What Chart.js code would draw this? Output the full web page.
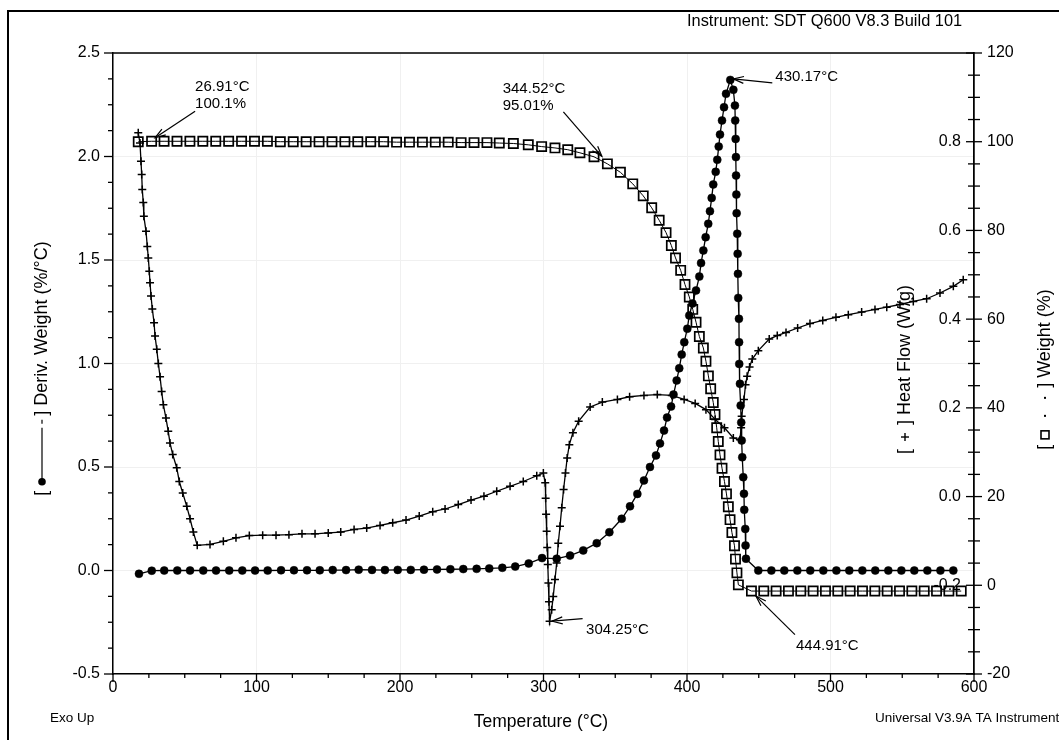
<!DOCTYPE html>
<html>
<head>
<meta charset="utf-8">
<title>SDT Q600 – TGA / DTG / DSC</title>
<script src="https://cdn.jsdelivr.net/npm/chart.js@4.4.1/dist/chart.umd.min.js"></script>
<style>
  html, body { margin: 0; padding: 0; background: #fff; }
  canvas { display: block; }
</style>
</head>
<body>
<canvas id="c" width="1059" height="740"></canvas>
<script>
// ---------- data ----------
// Derivative weight (%/°C) vs temperature (°C)
const derivTemp = [
  18.1, 27.0, 35.7, 44.8, 53.7, 62.9, 71.8, 81.0, 90.1, 99.0,
  107.8, 117.1, 126.1, 135.2, 144.1, 153.1, 162.4, 171.2, 180.5, 189.5,
  198.4, 207.5, 216.7, 225.8, 235.1, 244.1, 253.4, 262.2, 271.3, 280.3,
  289.7, 299.0,
  309.2, 318.5, 327.7, 337.1, 345.9, 354.5, 360.3, 365.4, 370.0, 374.2,
  378.4, 381.2, 384.0, 386.1, 388.9, 390.6, 392.8, 394.6, 396.3, 398.1,
  400.2, 401.6, 403.8, 406.3, 408.6, 409.8, 411.4, 413.0, 414.8, 416.0,
  417.2, 418.3, 420.0, 421.1, 422.1, 423.0, 424.4, 425.8, 427.2,
  430.17,
  432.3, 433.4, 433.6, 433.9, 434.1, 434.2, 434.4, 434.6, 435.0, 435.3,
  435.5, 435.7, 436.2, 436.3, 436.4, 436.9, 437.4, 437.8, 438.1, 438.5,
  439.2, 439.7, 439.9, 440.6, 440.8, 441.1,
  449.7, 458.8, 467.8, 476.9, 485.9, 495.0, 504.1, 513.1, 522.2, 531.2,
  540.3, 549.4, 558.4, 567.5, 576.6, 585.6
];
const derivValue = [
  -0.016, -0.001, 0.000, 0.000, 0.000, 0.000, 0.000, 0.000, 0.000, 0.000,
  0.000, 0.001, 0.001, 0.001, 0.001, 0.002, 0.002, 0.004, 0.003, 0.002,
  0.003, 0.003, 0.004, 0.005, 0.006, 0.007, 0.008, 0.010, 0.013, 0.019,
  0.034, 0.060,
  0.057, 0.072, 0.097, 0.132, 0.185, 0.250, 0.310, 0.370, 0.435, 0.500,
  0.556, 0.614, 0.676, 0.739, 0.792, 0.850, 0.918, 0.977, 1.043, 1.103,
  1.168, 1.232, 1.290, 1.353, 1.420, 1.485, 1.546, 1.610, 1.675, 1.736,
  1.800, 1.865, 1.926, 1.984, 2.048, 2.106, 2.174, 2.238, 2.303,
  2.370,
  2.322, 2.246, 2.174, 2.085, 1.997, 1.908, 1.816, 1.726, 1.627, 1.530,
  1.433, 1.317, 1.216, 1.103, 0.998, 0.902, 0.797, 0.715, 0.628, 0.547,
  0.451, 0.371, 0.293, 0.201, 0.121, 0.057,
  0, 0, 0, 0, 0, 0, 0, 0, 0, 0,
  0, 0, 0, 0, 0, 0
];

// Heat flow (W/g) vs temperature (°C)
const heatTemp = [
  17.6, 18.8, 19.5, 20.0, 20.4, 21.1, 21.5, 23.0, 23.9, 24.6,
  25.3, 25.8, 26.5, 27.4, 28.6, 29.3, 30.5, 31.6, 32.8, 33.9,
  35.1, 36.9, 38.5, 39.7, 41.6, 44.4, 46.2, 48.6, 51.4, 53.7,
  56.0, 58.7, 67.6, 76.9, 85.7, 95.0, 104.3, 113.6, 122.6, 131.7,
  140.8, 150.0, 158.7, 168.0, 176.8, 186.1, 194.9, 204.2, 213.4, 222.8,
  231.4, 240.6, 249.5, 258.5, 267.4, 276.7, 285.9, 295.3, 299.9, 301.2,
  301.5, 301.8, 302.2, 302.6, 303.0, 303.4, 303.8, 304.25, 305.7, 306.8,
  308.0, 309.2, 310.3, 311.5, 312.7, 314.0, 315.3, 316.5, 318.0, 320.5,
  324.5, 332.5, 341.0, 351.5, 360.0, 370.0, 379.3, 389.4, 398.0, 405.7,
  413.2, 419.6, 426.1, 432.3, 436.9, 437.7, 438.1, 439.7, 440.8, 441.9,
  443.6, 445.5, 449.7, 457.3, 462.9, 469.0, 477.1, 485.7, 494.6, 503.8,
  512.4, 521.7, 531.0, 539.2, 548.4, 557.7, 567.0, 576.3, 585.6, 592.5
];
const heatValue = [
  0.820, 0.797, 0.756, 0.726, 0.692, 0.663, 0.632, 0.598, 0.564, 0.538,
  0.508, 0.482, 0.452, 0.423, 0.392, 0.362, 0.332, 0.300, 0.270, 0.237,
  0.207, 0.177, 0.147, 0.121, 0.095, 0.065, 0.034, 0.008, -0.022, -0.050,
  -0.080, -0.110, -0.108, -0.101, -0.093, -0.088, -0.087, -0.087, -0.086, -0.084,
  -0.084, -0.082, -0.080, -0.074, -0.071, -0.065, -0.059, -0.053, -0.044, -0.034,
  -0.028, -0.018, -0.008, 0.001, 0.012, 0.023, 0.034, 0.047, 0.053, 0.031,
  -0.004, -0.040, -0.078, -0.115, -0.153, -0.195, -0.237, -0.281, -0.255, -0.225,
  -0.187, -0.150, -0.105, -0.067, -0.025, 0.016, 0.053, 0.087, 0.117, 0.144,
  0.170, 0.202, 0.213, 0.219, 0.225, 0.228, 0.230, 0.228, 0.219, 0.210,
  0.196, 0.174, 0.155, 0.132, 0.128, 0.155, 0.181, 0.219, 0.252, 0.271,
  0.292, 0.310, 0.329, 0.355, 0.363, 0.370, 0.380, 0.390, 0.397, 0.404,
  0.410, 0.416, 0.422, 0.427, 0.433, 0.440, 0.446, 0.459, 0.474, 0.489
];

// Weight (%) vs temperature (°C)
const weightTemp = [
  17.6, 26.91, 35.6, 44.6, 53.6, 62.6, 71.6, 80.6, 89.6, 98.6,
  107.6, 116.6, 125.6, 134.6, 143.6, 152.6, 161.6, 170.6, 179.6, 188.6,
  197.6, 206.6, 215.6, 224.6, 233.6, 242.6, 251.6, 260.6,
  269.2, 279.0, 289.4, 298.7, 308.0, 316.9, 325.4, 335.2, 344.52, 353.6,
  362.2, 369.5, 375.4, 380.6, 385.4, 389.1, 392.0, 395.6, 398.6, 401.6,
  404.0, 406.3, 408.6, 411.4, 413.2, 414.9, 416.5, 418.3, 419.5, 420.7,
  421.8, 423.0, 424.4, 426.1, 427.5, 428.8, 430.0, 431.3, 433.1, 433.8,
  434.8, 435.8, 444.91,
  453.5, 462.1, 470.7, 479.3, 487.9, 496.5, 505.1, 513.7, 522.3, 530.9,
  539.5, 548.1, 556.7, 565.3, 573.9, 582.5, 591.1
];
const weightValue = [
  100.0, 100.1, 100.1, 100.1, 100.1, 100.1, 100.1, 100.1, 100.1, 100.1,
  100.1, 100.0, 100.0, 100.0, 100.0, 100.0, 100.0, 100.0, 100.0, 100.0,
  99.9, 99.9, 99.9, 99.9, 99.9, 99.8, 99.8, 99.8,
  99.7, 99.6, 99.3, 98.9, 98.6, 98.2, 97.5, 96.6, 95.01, 93.1,
  90.5, 87.8, 85.1, 82.3, 79.5, 76.6, 73.8, 71.0, 67.8, 65.0,
  62.2, 59.3, 56.1, 53.5, 50.5, 47.2, 44.3, 41.2, 38.5, 35.5,
  32.4, 29.4, 26.4, 23.4, 20.6, 17.7, 14.8, 11.9, 8.9, 5.9,
  2.8, 0.1, -1.3,
  -1.3, -1.3, -1.3, -1.3, -1.3, -1.3, -1.3, -1.3, -1.3, -1.3,
  -1.3, -1.3, -1.3, -1.3, -1.3, -1.3, -1.3
];

// Tick values of every axis
const tempTickValues = [0, 100, 200, 300, 400, 500, 600];
const derivTickValues = [-0.5, 0.0, 0.5, 1.0, 1.5, 2.0, 2.5];
const heatFlowTickValues = [-0.2, 0.0, 0.2, 0.4, 0.6, 0.8];
const weightTickValues = [-20, 0, 20, 40, 60, 80, 100, 120];

// Labelled events: temperature, text lines, series they sit on
const noteTemps = [26.91, 344.52, 430.17, 304.25, 444.91];
const noteLines = [['26.91°C', '100.1%'], ['344.52°C', '95.01%'], ['430.17°C'], ['304.25°C'], ['444.91°C']];
const noteSeries = ['weight', 'weight', 'deriv', 'heat', 'weight'];

// ---------- drawing ----------
const FONT = "'Liberation Sans', Arial, Helvetica, sans-serif";
const INK = '#000';

const series = {
  deriv:  { temps: derivTemp,  values: derivValue,  axis: 'yDeriv' },
  heat:   { temps: heatTemp,   values: heatValue,   axis: 'yHeat' },
  weight: { temps: weightTemp, values: weightValue, axis: 'yWeight' }
};
const pairs = (t, v) => t.map((x, i) => ({ x, y: v[i] }));

// Offsets (px) of arrow tip, arrow tail and text from each labelled marker
const noteLayout = [
  { tip: [3.5, -3.5], tail: [43.5, -30], text: [43.5, -50] },
  { tip: [-5.5, -7.5], tail: [-44, -52], text: [-104.7, -71] },
  { tip: [3, -1], tail: [42, 3], text: [45, 1.5] },
  { tip: [2.5, 0], tail: [33, -2.5], text: [36.5, 13] },
  { tip: [4.5, 5], tail: [43.5, 43.5], text: [44.5, 58.5] }
];

function seg(ctx, x1, y1, x2, y2) {
  ctx.beginPath(); ctx.moveTo(x1, y1); ctx.lineTo(x2, y2); ctx.stroke();
}

function arrow(ctx, x1, y1, x2, y2) {
  seg(ctx, x1, y1, x2, y2);
  const a = Math.atan2(y2 - y1, x2 - x1);
  const L = 11, s = 0.32;
  ctx.beginPath();
  ctx.moveTo(x2 - L * Math.cos(a - s), y2 - L * Math.sin(a - s));
  ctx.lineTo(x2, y2);
  ctx.lineTo(x2 - L * Math.cos(a + s), y2 - L * Math.sin(a + s));
  ctx.stroke();
}

// Rotated axis caption with its inline series key, read bottom-to-top
function verticalCaption(ctx, cx, cy, parts, size) {
  ctx.save();
  ctx.translate(cx, cy);
  ctx.rotate(-Math.PI / 2);
  ctx.font = size + 'px ' + FONT;
  ctx.textBaseline = 'middle';
  ctx.textAlign = 'left';
  ctx.fillStyle = INK; ctx.strokeStyle = INK;
  const widths = parts.map(p => p.text != null ? ctx.measureText(p.text).width : p.w);
  const total = widths.reduce((s, w) => s + w, 0);
  let u = -total / 2;
  parts.forEach((p, i) => {
    if (p.text != null) ctx.fillText(p.text, u, 0);
    else if (p.draw) p.draw(ctx, u);
    u += widths[i];
  });
  ctx.restore();
}

const decorations = {
  id: 'decorations',
  afterDraw(chart) {
    const { ctx, chartArea: a, scales: s } = chart;
    ctx.save();
    ctx.strokeStyle = INK; ctx.fillStyle = INK;

    // outer frame
    ctx.lineWidth = 2;
    ctx.beginPath(); ctx.moveTo(8, 740); ctx.lineTo(8, 11); ctx.lineTo(1059, 11); ctx.stroke();

    // top edge of plot box
    ctx.lineWidth = 1.5;
    seg(ctx, a.left, a.top, a.right, a.top);

    // tick marks
    ctx.lineWidth = 1.3;
    for (let k = 0; k <= 24; k++) {
      const x = s.x.getPixelForValue(k * 25);
      seg(ctx, x, a.bottom, x, a.bottom + (k % 4 === 0 ? 8 : 4));
    }
    for (let k = 0; k <= 24; k++) {
      const y = s.yDeriv.getPixelForValue(-0.5 + k * 0.125);
      seg(ctx, a.left - (k % 4 === 0 ? 9 : 5), y, a.left, y);
    }
    for (let k = 0; k <= 28; k++) {
      const y = s.yWeight.getPixelForValue(-20 + k * 5);
      const len = k % 4 === 0 ? 8 : 6;
      seg(ctx, a.right - len, y, a.right + len, y);
    }

    // event labels with arrows
    ctx.font = '15px ' + FONT;
    ctx.textBaseline = 'alphabetic';
    ctx.textAlign = 'left';
    ctx.lineWidth = 1.2;
    noteTemps.forEach((t, i) => {
      const sr = series[noteSeries[i]];
      const v = sr.values[sr.temps.indexOf(t)];
      const px = s.x.getPixelForValue(t);
      const py = s[sr.axis].getPixelForValue(v);
      const L = noteLayout[i];
      arrow(ctx, px + L.tail[0], py + L.tail[1], px + L.tip[0], py + L.tip[1]);
      noteLines[i].forEach((line, j) => ctx.fillText(line, px + L.text[0], py + L.text[1] + j * 17));
    });

    // header / footer texts
    ctx.font = '16.4px ' + FONT;
    ctx.fillText('Instrument: SDT Q600 V8.3 Build 101', 687, 26);
    ctx.font = '13.5px ' + FONT;
    ctx.fillText('Exo Up', 50, 722);
    ctx.fillText('Universal V3.9A TA Instruments', 875, 722);
    ctx.font = '17.5px ' + FONT;
    ctx.textAlign = 'center';
    ctx.fillText('Temperature (°C)', 541, 727);

    // axis captions with series keys
    verticalCaption(ctx, 42, 368.5, [
      { text: '[' }, { w: 5 },
      { w: 70, draw: (c, u) => {
          c.beginPath(); c.arc(u + 4, 0, 3.8, 0, Math.PI * 2); c.fill();
          c.lineWidth = 1.2; seg(c, u + 4, 0, u + 58, 0); seg(c, u + 62, 0, u + 66, 0);
      } },
      { text: ']' }, { text: ' Deriv. Weight (%/°C)' }
    ], 18);
    verticalCaption(ctx, 905, 369.5, [
      { text: '[' }, { w: 7 },
      { w: 10, draw: (c, u) => { c.lineWidth = 1.4; seg(c, u + 1, 0, u + 9, 0); seg(c, u + 5, -4, u + 5, 4); } },
      { w: 7 }, { text: ']' }, { text: ' Heat Flow (W/g)' }
    ], 18);
    verticalCaption(ctx, 1045, 369.5, [
      { text: '[' }, { w: 5 },
      { w: 52, draw: (c, u) => {
          c.lineWidth = 1.6; c.strokeRect(u + 1, -4, 8, 8);
          c.fillRect(u + 23, -1, 2, 2); c.fillRect(u + 41, -1, 2, 2);
      } },
      { text: ']' }, { text: ' Weight (%)' }
    ], 18);

    ctx.restore();
  }
};

const tickFont = { family: FONT, size: 16 };
const fixTicks = values => scale => { scale.ticks = values.map(value => ({ value })); };

new Chart(document.getElementById('c'), {
  type: 'line',
  data: {
    datasets: [
      {
        label: 'Weight (%)',
        data: pairs(weightTemp, weightValue),
        yAxisID: 'yWeight',
        borderColor: INK, borderWidth: 1,
        pointStyle: 'rect', pointRadius: 6.5,
        pointBorderColor: INK, pointBorderWidth: 1.7,
        pointBackgroundColor: 'rgba(255,255,255,0)',
        tension: 0, fill: false
      },
      {
        label: 'Deriv. Weight (%/°C)',
        data: pairs(derivTemp, derivValue),
        yAxisID: 'yDeriv',
        borderColor: INK, borderWidth: 1.3,
        pointStyle: 'circle', pointRadius: 4,
        pointBorderColor: INK, pointBorderWidth: 0.5,
        pointBackgroundColor: INK,
        tension: 0, fill: false
      },
      {
        label: 'Heat Flow (W/g)',
        data: pairs(heatTemp, heatValue),
        yAxisID: 'yHeat',
        borderColor: INK, borderWidth: 1.3,
        pointStyle: 'cross', pointRadius: 4,
        pointBorderColor: INK, pointBorderWidth: 1.5,
        tension: 0, fill: false
      }
    ]
  },
  options: {
    responsive: false,
    animation: false,
    devicePixelRatio: 1,
    events: [],
    layout: { padding: { top: 53, left: 0, right: 0, bottom: 0 } },
    plugins: { legend: { display: false }, tooltip: { enabled: false } },
    scales: {
      x: {
        type: 'linear', position: 'bottom', min: 0, max: 600,
        afterBuildTicks: fixTicks(tempTickValues),
        ticks: { color: INK, font: tickFont, padding: 4, maxRotation: 0, autoSkip: false },
        grid: { color: '#f0f0f0', drawTicks: false },
        border: { display: true, color: INK, width: 1.5 },
        afterFit: sc => { sc.height = 66; }
      },
      yDeriv: {
        type: 'linear', position: 'left', min: -0.5, max: 2.5,
        afterBuildTicks: fixTicks(derivTickValues),
        ticks: { color: INK, font: tickFont, padding: 13, autoSkip: false, callback: v => v.toFixed(1) },
        grid: { color: '#f0f0f0', drawTicks: false },
        border: { display: true, color: INK, width: 1.5 },
        afterFit: sc => { sc.width = 113; }
      },
      yHeat: {
        type: 'linear', position: 'right', min: -0.4, max: 1.0,
        afterBuildTicks: fixTicks(heatFlowTickValues),
        ticks: { color: INK, font: tickFont, padding: -13, mirror: true, autoSkip: false, callback: v => v.toFixed(1) },
        grid: { display: false, drawTicks: false },
        border: { display: true, color: INK, width: 1.5 },
        afterFit: sc => { sc.width = 0; }
      },
      yWeight: {
        type: 'linear', position: 'right', min: -20, max: 120,
        afterBuildTicks: fixTicks(weightTickValues),
        ticks: { color: INK, font: tickFont, padding: 13, autoSkip: false, callback: v => String(v) },
        grid: { display: false, drawTicks: false },
        border: { display: true, color: INK, width: 1.5 },
        afterFit: sc => { sc.width = 85; }
      }
    }
  },
  plugins: [decorations]
});
</script>
</body>
</html>
